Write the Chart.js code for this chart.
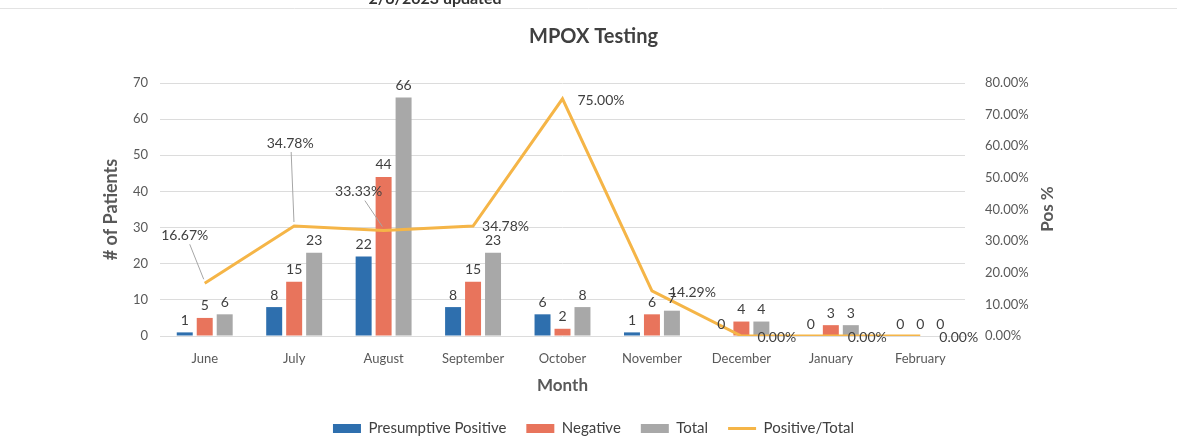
<!DOCTYPE html>
<html>
<head>
<meta charset="utf-8">
<script src="https://cdn.jsdelivr.net/npm/chart.js@4.4.0/dist/chart.umd.min.js"></script>
<style>
  html, body { margin: 0; padding: 0; background: #fff; }
  #wrap { width: 1177px; height: 441px; }
</style>
</head>
<body>
<div id="wrap"><canvas id="chart" width="1177" height="441"></canvas></div>
<script>
// Data
const months = ['June', 'July', 'August', 'September', 'October', 'November', 'December', 'January', 'February'];
const presumptivePositive = [1, 8, 22, 8, 6, 1, 0, 0, 0];
const negative = [5, 15, 44, 15, 2, 6, 4, 3, 0];
const total = [6, 23, 66, 23, 8, 7, 4, 3, 0];
const positiveRate = [0.1667, 0.3478, 0.3333, 0.3478, 0.75, 0.1429, 0, 0, 0];

const TEXT = '#595959';
const FONT = 'Lato, "Liberation Sans", sans-serif';

// where each percentage label sits relative to its point (dx, dy, leader line)
const rateLabelPlacement = [
  { dx: -20, dy: -48, leader: true },
  { dx: -4, dy: -83, leader: true },
  { dx: -25, dy: -39, leader: true },
  { dx: 9, dy: 0, align: 'left' },
  { dx: 15, dy: 2, align: 'left' },
  { dx: 17, dy: 2, align: 'left' },
  { dx: 16, dy: 1, align: 'left' },
  { dx: 17, dy: 1, align: 'left' },
  { dx: 19, dy: 1, align: 'left' }
];

// Labels, leader lines and the extra text around the chart
const labelsPlugin = {
  id: 'labels',
  beforeDraw(chart) {
    const ctx = chart.ctx;
    ctx.save();
    // faint spreadsheet border and the cut-off note at the top
    ctx.strokeStyle = '#e3e3e3';
    ctx.lineWidth = 1;
    ctx.beginPath();
    ctx.moveTo(0, 8.5);
    ctx.lineTo(1177, 8.5);
    ctx.stroke();
    ctx.fillStyle = '#333';
    ctx.font = 'bold 16px ' + FONT;
    ctx.textAlign = 'center';
    ctx.textBaseline = 'middle';
    ctx.fillText('2/6/2023 updated', 435, -1);
    ctx.restore();
  },
  afterDatasetsDraw(chart) {
    const ctx = chart.ctx;
    ctx.save();
    ctx.font = '14px ' + FONT;
    ctx.fillStyle = '#404040';
    ctx.textAlign = 'center';
    ctx.textBaseline = 'bottom';
    [0, 1, 2].forEach(di => {
      const meta = chart.getDatasetMeta(di);
      const values = chart.data.datasets[di].data;
      meta.data.forEach((bar, i) => {
        ctx.fillText(String(values[i]), bar.x, bar.y - 5);
      });
    });

    const lineMeta = chart.getDatasetMeta(3);
    ctx.textBaseline = 'middle';
    lineMeta.data.forEach((pt, i) => {
      const p = rateLabelPlacement[i];
      const lx = pt.x + p.dx;
      const ly = pt.y + p.dy;
      if (p.leader) {
        ctx.strokeStyle = '#a6a6a6';
        ctx.lineWidth = 1;
        ctx.beginPath();
        ctx.moveTo(lx + (pt.x - lx) * 0.25, ly + 9);
        ctx.lineTo(pt.x - (pt.x - lx) * 0.05, pt.y - 4);
        ctx.stroke();
      }
      ctx.textAlign = p.align || 'center';
      ctx.fillText((positiveRate[i] * 100).toFixed(2) + '%', lx, ly);
    });

    // right axis title reads bottom-to-top
    ctx.font = 'bold 17px ' + FONT;
    ctx.fillStyle = TEXT;
    ctx.translate(1048, 209);
    ctx.rotate(-Math.PI / 2);
    ctx.textAlign = 'center';
    ctx.fillText('Pos %', 0, 0);
    ctx.restore();
  }
};

new Chart(document.getElementById('chart'), {
  data: {
    labels: months,
    datasets: [
      {
        type: 'bar',
        label: 'Presumptive Positive',
        data: presumptivePositive,
        backgroundColor: '#2E6FAE',
        yAxisID: 'y',
        order: 1,
        pointStyle: 'rect',
        categoryPercentage: 0.67,
        barPercentage: 0.8
      },
      {
        type: 'bar',
        label: 'Negative',
        data: negative,
        backgroundColor: '#E8745C',
        yAxisID: 'y',
        order: 1,
        pointStyle: 'rect',
        categoryPercentage: 0.67,
        barPercentage: 0.8
      },
      {
        type: 'bar',
        label: 'Total',
        data: total,
        backgroundColor: '#A8A8A8',
        yAxisID: 'y',
        order: 1,
        pointStyle: 'rect',
        categoryPercentage: 0.67,
        barPercentage: 0.8
      },
      {
        type: 'line',
        label: 'Positive/Total',
        data: positiveRate,
        borderColor: '#F5B547',
        backgroundColor: '#F5B547',
        borderWidth: 3,
        pointRadius: 0,
        pointStyle: 'line',
        tension: 0,
        yAxisID: 'y1',
        order: 0
      }
    ]
  },
  options: {
    responsive: false,
    animation: false,
    devicePixelRatio: 1,
    layout: { padding: { left: 100, right: 90, top: 0, bottom: -5 } },
    plugins: {
      title: {
        display: true,
        text: 'MPOX Testing',
        color: '#404040',
        font: { family: FONT, size: 20, weight: 'bold' },
        padding: { top: 25, bottom: 34 }
      },
      legend: {
        position: 'bottom',
        labels: {
          usePointStyle: true,
          pointStyleWidth: 28,
          boxWidth: 28,
          boxHeight: 9,
          padding: 20,
          color: '#404040',
          font: { family: FONT, size: 15 },
          sort: (a, b) => a.datasetIndex - b.datasetIndex
        }
      },
      tooltip: { enabled: false }
    },
    scales: {
      x: {
        grid: { display: false },
        border: { display: false },
        ticks: { color: TEXT, font: { family: FONT, size: 13 }, padding: 7 },
        title: {
          display: true,
          text: 'Month',
          color: TEXT,
          font: { family: FONT, size: 17, weight: 'bold' },
          padding: { top: 4, bottom: 5 }
        },
        afterFit: s => { s.height = 65; }
      },
      y: {
        position: 'left',
        min: 0,
        max: 70,
        ticks: { stepSize: 10, color: TEXT, font: { family: FONT, size: 13 }, padding: 12 },
        grid: { color: '#dcdcdc', drawTicks: false },
        border: { display: false },
        title: {
          display: true,
          text: '# of Patients',
          color: TEXT,
          font: { family: FONT, size: 18, weight: 'bold' },
          padding: 0
        },
        afterFit: s => { s.width = 60; }
      },
      y1: {
        position: 'right',
        min: 0,
        max: 0.8,
        ticks: {
          stepSize: 0.1,
          color: TEXT,
          font: { family: FONT, size: 13 },
          padding: 20,
          callback: v => (v * 100).toFixed(2) + '%'
        },
        grid: { drawOnChartArea: false, drawTicks: false },
        border: { display: false },
        afterFit: s => { s.width = 122; }
      }
    }
  },
  plugins: [labelsPlugin]
});
</script>
</body>
</html>
